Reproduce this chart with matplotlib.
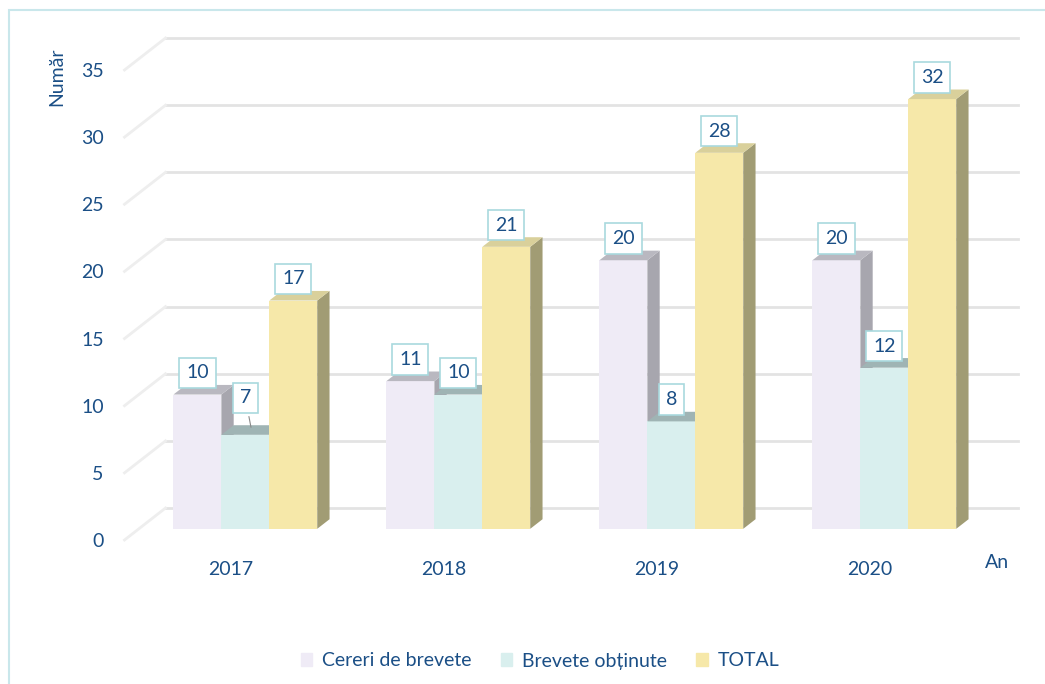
import numpy as np
import matplotlib.pyplot as plt
from matplotlib.patches import Patch, Rectangle

plt.rcParams['font.family'] = ['Lato', 'DejaVu Sans']

years = ['2017', '2018', '2019', '2020']
series = ['Cereri de brevete', 'Brevete obținute', 'TOTAL']
cereri = [10, 11, 20, 20]
brevete = [7, 10, 8, 12]
total = [17, 21, 28, 32]
values = [cereri, brevete, total]

front = ['#efebf6', '#d9efee', '#f6e8a9']
side = ['#a7a6ae', '#8fa5a6', '#a19c74']
top = ['#b9b8c0', '#9fb4b4', '#d9d09b']
txt = '#1b4f86'
grid_c = '#e3e3e3'
fs = 14

# depth of the 3-D box in data units and where the bars sit inside it
DX, DY = 0.1925, 2.38
d0, d1 = 0.35, 0.65
w = 0.225

fig = plt.figure(figsize=(10.45, 6.84), dpi=100)
fig.patches.append(Rectangle((0.009, -0.01), 1.0, 0.995, transform=fig.transFigure,
                             fill=False, ec='#c9e7eb', lw=1.5))
ax = fig.add_axes([124.5 / 1045, 144 / 684, 852 / 1045, 470 / 684])
ax.set_xlim(-0.5, 3.5)
ax.set_ylim(0, 35)
for s in ax.spines.values():
    s.set_visible(False)

ticks = np.arange(0, 36, 5)
ax.set_yticks(ticks)
ax.set_xticks(range(len(years)), years)
ax.tick_params(length=0, colors=txt, labelsize=fs)
ax.tick_params(axis='y', pad=15)
ax.tick_params(axis='x', pad=15)

# back wall gridlines and side wall diagonals
for v in ticks:
    ax.plot([-0.5 + DX, 3.5 + DX], [v + DY, v + DY], color=grid_c, lw=2,
            clip_on=False, zorder=1)
    ax.plot([-0.5, -0.5 + DX], [v, v + DY], color='#eeeeee', lw=2,
            clip_on=False, zorder=1)

label_lift = {(0, 1): 11}

for i in range(len(years)):
    for k in range(3):
        v = values[k][i]
        x0 = i + (k - 1.5) * w + d0 * DX
        y0 = d0 * DY
        x1 = x0 + w
        ex, ey = (d1 - d0) * DX, (d1 - d0) * DY
        z = 3 + i * 3 + k
        ax.fill([x0, x1, x1, x0], [y0, y0, y0 + v, y0 + v], color=front[k],
                lw=0, clip_on=False, zorder=z)
        ax.fill([x1, x1 + ex, x1 + ex, x1], [y0, y0 + ey, y0 + v + ey, y0 + v],
                color=side[k], lw=0, clip_on=False, zorder=z)
        ax.fill([x0, x1, x1 + ex, x0 + ex], [y0 + v, y0 + v, y0 + v + ey, y0 + v + ey],
                color=top[k], lw=0, clip_on=False, zorder=z)
        lift = label_lift.get((i, k), 0)
        ax.annotate(str(v), xy=((x0 + x1) / 2 + ex / 2, y0 + v + ey / 2),
                    xytext=(-ex * 213 / 1.389 / 2, 6 + lift), textcoords='offset points',
                    ha='center', va='bottom', fontsize=fs, color=txt, zorder=30,
                    bbox=dict(boxstyle='square,pad=0.35', fc='white', ec='#a9d9de', lw=1.2),
                    arrowprops=dict(arrowstyle='-', color='#8a8a8a', lw=0.8) if lift else None,
                    annotation_clip=False)

fig.text(57 / 1045, 1 - 77 / 684, 'Număr', rotation=90, ha='center', va='center',
         fontsize=fs, color=txt)
fig.text(997 / 1045, 1 - 562 / 684, 'An', ha='center', va='center', fontsize=fs, color=txt)

handles = [Patch(color=front[k], label=series[k]) for k in range(3)]
fig.legend(handles=handles, loc='center', bbox_to_anchor=(540 / 1045, 1 - 661 / 684),
           ncol=3, frameon=False, fontsize=fs, labelcolor=txt, handlelength=0.6,
           handleheight=0.6, columnspacing=1.5, handletextpad=0.5)

fig.savefig('out.png', dpi=100)
